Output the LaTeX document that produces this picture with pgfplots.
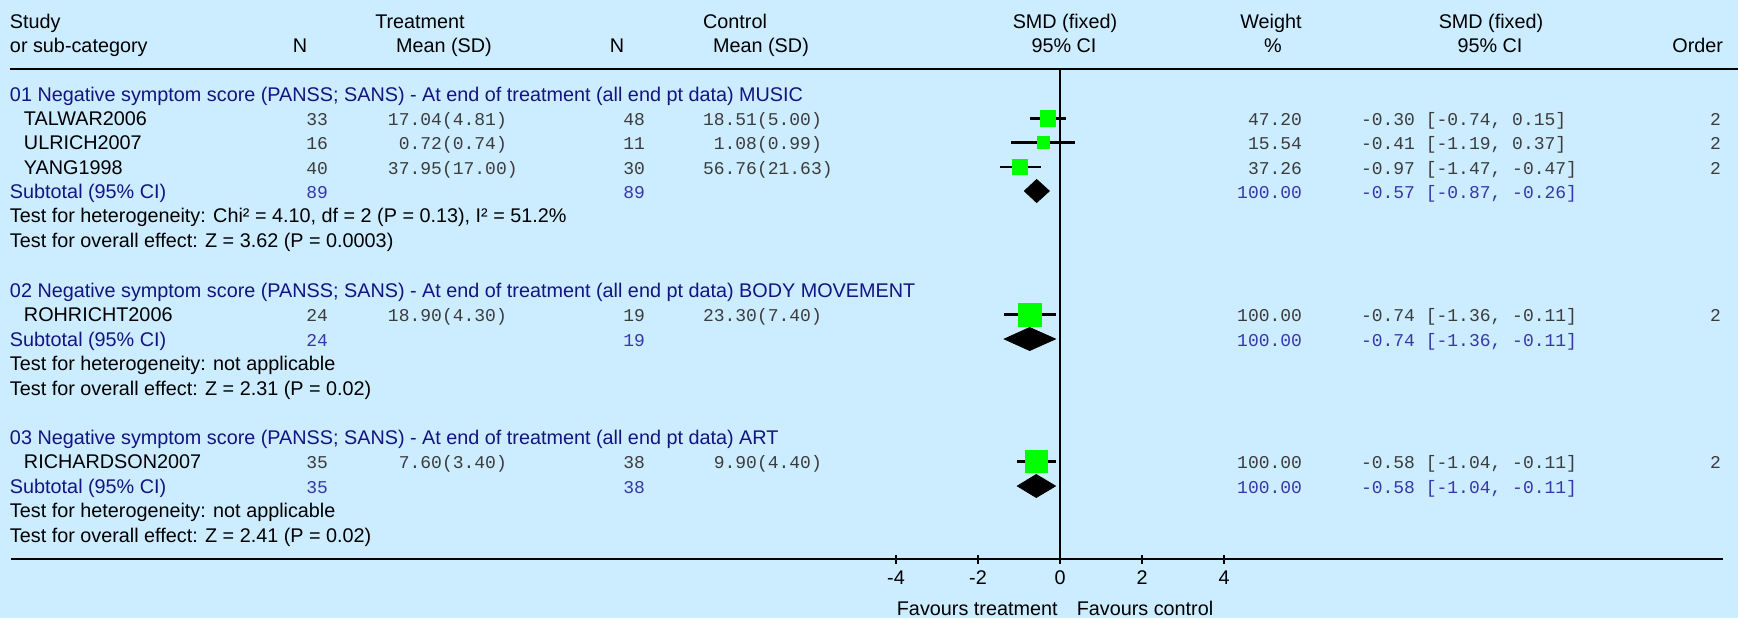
\documentclass[border=0pt]{standalone}
\usepackage{pgfplots}
\pgfplotsset{compat=1.18}
\usepackage{pgfplotstable}
\usepackage{fontspec}
\setmainfont{Liberation Sans}
\setmonofont{Liberation Mono}
\definecolor{bgblue}{RGB}{204,236,255}
\definecolor{navy}{RGB}{20,20,130}
\definecolor{subblue}{RGB}{55,55,170}
\definecolor{numgray}{RGB}{60,60,60}
\definecolor{sqgreen}{RGB}{0,255,0}
\newcommand\sans{\fontsize{9.9pt}{12pt}\selectfont}
\newcommand\mono{\ttfamily\fontsize{9pt}{11pt}\selectfont}

\pgfplotstableread{
y est lo hi size
118.5 -0.30 -0.74 0.15 15.5
142.5 -0.41 -1.19 0.37 11.5
167 -0.97 -1.47 -0.47 14.8
314.5 -0.74 -1.36 -0.11 23
461.5 -0.58 -1.04 -0.11 22.5
}\studies

\begin{document}
\begin{tikzpicture}
\fill[bgblue] (0,0) rectangle (869pt,-309pt);
\begin{axis}[at={(0,0)}, anchor=north west, scale only axis,
  width=869pt, height=309pt,
  xmin=-25.8537, xmax=16.5366, ymin=0, ymax=618, y dir=reverse,
  axis lines=none, clip=false]
% rules
\addplot[black, line width=1.25pt] coordinates {(-25.61,68.8) (16.5366,68.8)};
\addplot[black, line width=1.1pt] coordinates {(0,68.8) (0,559)};
\addplot[black, line width=1.3pt] coordinates {(-25.585,559) (16.171,559)};
\pgfplotsinvokeforeach{-4,-2,0,2,4}{\addplot[black, line width=1pt] coordinates {(#1,555) (#1,564)};}
% squares
\addplot[scatter, only marks, mark=square*,
  scatter/use mapped color={draw=sqgreen, fill=sqgreen},
  visualization depends on={0.25*\thisrow{size} \as \msz},
  scatter/@pre marker code/.append style={/tikz/mark size=\msz pt}]
  table[x=est, y=y] {\studies};
% CI lines
\addplot[draw=none, no markers,
  error bars/.cd, x dir=both, x explicit, error mark=none,
  error bar style={black, line width=1.2pt}]
  table[x=est, y=y, x error plus expr=\thisrow{hi}-\thisrow{est},
        x error minus expr=\thisrow{est}-\thisrow{lo}] {\studies};
% diamonds
\addplot[fill=black, draw=black] coordinates {(-0.87,191) (-0.57,179.5) (-0.26,191) (-0.57,202.5)} -- cycle;
\addplot[fill=black, draw=black] coordinates {(-1.36,339) (-0.74,327.5) (-0.11,339) (-0.74,350.5)} -- cycle;
\addplot[fill=black, draw=black] coordinates {(-1.04,486) (-0.58,474.5) (-0.11,486) (-0.58,497.5)} -- cycle;
% tick labels
\pgfplotsinvokeforeach{-4,-2,0,2,4}{\node[font=\sans, anchor=base, inner sep=0pt] at (axis cs:#1,584) {#1};}
\node[font=\sans, anchor=base east, inner sep=0pt] at (axis cs:-0.05,615) {Favours treatment};
\node[font=\sans, anchor=base west, inner sep=0pt] at (axis cs:0.40,615) {Favours control};
\end{axis}

\begin{scope}[x=0.5pt, y=-0.5pt,
  every node/.style={inner sep=0pt, outer sep=0pt, font=\sans},
  L/.style={anchor=base west}, R/.style={anchor=base east}, C/.style={anchor=base},
  M/.style={font=\mono, text=numgray}, S/.style={font=\mono, text=subblue}]
% headers
\node[L] at (10,28) {Study};
\node[C] at (420,28) {Treatment};
\node[C] at (735,28) {Control};
\node[C] at (1065,28) {SMD (fixed)};
\node[C] at (1271,28) {Weight};
\node[C] at (1491,28) {SMD (fixed)};
\node[L] at (10,52) {or sub-category};
\node[C] at (300,52) {N};
\node[C] at (444,52) {Mean (SD)};
\node[C] at (617,52) {N};
\node[C] at (761,52) {Mean (SD)};
\node[C] at (1064,52) {95\% CI};
\node[C] at (1273,52) {\%};
\node[C] at (1490,52) {95\% CI};
\node[R] at (1723,52) {Order};
% group 1
\node[L, text=navy] at (10,101) {01 Negative symptom score (PANSS; SANS) - At end of treatment (all end pt data) MUSIC};
\node[L] at (24,125.5) {TALWAR2006};
\node[R,M] at (328,125.5) {33};
\node[R,M] at (442,125.5) {17.04}; \node[L,M] at (442,125.5) {(4.81)};
\node[R,M] at (645,125.5) {48};
\node[R,M] at (757,125.5) {18.51}; \node[L,M] at (757,125.5) {(5.00)};
\node[R,M] at (1302,125.5) {47.20};
\node[L,M] at (1361,125.5) {-0.30 [-0.74, 0.15]};
\node[R,M] at (1721,125.5) {2};
\node[L] at (24,149.5) {ULRICH2007};
\node[R,M] at (328,149.5) {16};
\node[R,M] at (442,149.5) {0.72}; \node[L,M] at (442,149.5) {(0.74)};
\node[R,M] at (645,149.5) {11};
\node[R,M] at (757,149.5) {1.08}; \node[L,M] at (757,149.5) {(0.99)};
\node[R,M] at (1302,149.5) {15.54};
\node[L,M] at (1361,149.5) {-0.41 [-1.19, 0.37]};
\node[R,M] at (1721,149.5) {2};
\node[L] at (24,174) {YANG1998};
\node[R,M] at (328,174) {40};
\node[R,M] at (442,174) {37.95}; \node[L,M] at (442,174) {(17.00)};
\node[R,M] at (645,174) {30};
\node[R,M] at (757,174) {56.76}; \node[L,M] at (757,174) {(21.63)};
\node[R,M] at (1302,174) {37.26};
\node[L,M] at (1361,174) {-0.97 [-1.47, -0.47]};
\node[R,M] at (1721,174) {2};
\node[L, text=navy] at (10,198) {Subtotal (95\% CI)};
\node[R,S] at (328,198) {89};
\node[R,S] at (645,198) {89};
\node[R,S] at (1302,198) {100.00};
\node[L,S] at (1361,198) {-0.57 [-0.87, -0.26]};
\node[L] at (10,222.5) {Test for heterogeneity: Chi² = 4.10, df = 2 (P = 0.13), I² = 51.2\%};
\node[L] at (10,247) {Test for overall effect: Z = 3.62 (P = 0.0003)};
% group 2
\node[L, text=navy] at (10,297) {02 Negative symptom score (PANSS; SANS) - At end of treatment (all end pt data) BODY MOVEMENT};
\node[L] at (24,321.5) {ROHRICHT2006};
\node[R,M] at (328,321.5) {24};
\node[R,M] at (442,321.5) {18.90}; \node[L,M] at (442,321.5) {(4.30)};
\node[R,M] at (645,321.5) {19};
\node[R,M] at (757,321.5) {23.30}; \node[L,M] at (757,321.5) {(7.40)};
\node[R,M] at (1302,321.5) {100.00};
\node[L,M] at (1361,321.5) {-0.74 [-1.36, -0.11]};
\node[R,M] at (1721,321.5) {2};
\node[L, text=navy] at (10,346) {Subtotal (95\% CI)};
\node[R,S] at (328,346) {24};
\node[R,S] at (645,346) {19};
\node[R,S] at (1302,346) {100.00};
\node[L,S] at (1361,346) {-0.74 [-1.36, -0.11]};
\node[L] at (10,370.5) {Test for heterogeneity: not applicable};
\node[L] at (10,395) {Test for overall effect: Z = 2.31 (P = 0.02)};
% group 3
\node[L, text=navy] at (10,444) {03 Negative symptom score (PANSS; SANS) - At end of treatment (all end pt data) ART};
\node[L] at (24,468.5) {RICHARDSON2007};
\node[R,M] at (328,468.5) {35};
\node[R,M] at (442,468.5) {7.60}; \node[L,M] at (442,468.5) {(3.40)};
\node[R,M] at (645,468.5) {38};
\node[R,M] at (757,468.5) {9.90}; \node[L,M] at (757,468.5) {(4.40)};
\node[R,M] at (1302,468.5) {100.00};
\node[L,M] at (1361,468.5) {-0.58 [-1.04, -0.11]};
\node[R,M] at (1721,468.5) {2};
\node[L, text=navy] at (10,493) {Subtotal (95\% CI)};
\node[R,S] at (328,493) {35};
\node[R,S] at (645,493) {38};
\node[R,S] at (1302,493) {100.00};
\node[L,S] at (1361,493) {-0.58 [-1.04, -0.11]};
\node[L] at (10,517.5) {Test for heterogeneity: not applicable};
\node[L] at (10,542) {Test for overall effect: Z = 2.41 (P = 0.02)};
\end{scope}
\pgfresetboundingbox
\path[use as bounding box] (0,0) rectangle (869pt,-309pt);
\end{tikzpicture}
\end{document}
